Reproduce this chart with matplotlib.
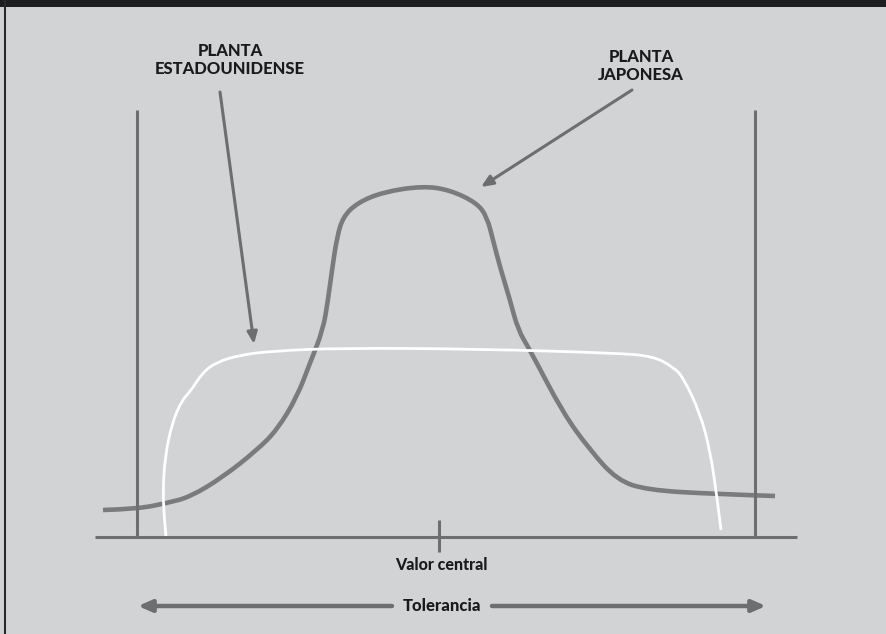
import matplotlib
matplotlib.use('Agg')
import matplotlib.pyplot as plt
from matplotlib.path import Path
from matplotlib.patches import PathPatch

# Diagram coordinates (pixel-like units, y grows downward)
japan_x = [103, 137, 167, 190, 223, 257, 277, 297, 310, 323, 328, 332, 337, 343, 357, 383,
           423, 450, 477, 487, 493, 500, 510, 518, 530, 563, 590, 617, 647, 713, 775]
japan_y = [510, 509, 503, 497, 477, 450, 430, 397, 363, 330, 300, 270, 237, 217, 203, 192,
           186, 190, 203, 217, 240, 267, 300, 330, 350, 413, 450, 480, 490, 494, 496]

usa_x = [166, 164, 163, 165, 172, 182, 190, 203, 217, 240, 273, 340, 480, 613, 653, 673,
         683, 700, 710, 717, 721]
usa_y = [537, 515, 490, 457, 423, 400, 392, 372, 362, 355, 351, 348, 349, 353, 356, 367,
         377, 413, 450, 497, 530]

base_y = 537
base_x = [95, 797]
limits_x = [137, 755]
limits_top = 110
center_x = 439
center_tick = [520, 552]

label_usa = 'PLANTA\nESTADOUNIDENSE'
label_japan = 'PLANTA\nJAPONESA'
label_center = 'Valor central'
label_tol = 'Tolerancia'

bg = '#d2d3d5'
line_col = '#6e6e70'
curve_col = '#7b7b7d'
text_col = '#1a1a1a'

plt.rcParams['font.family'] = ['Lato', 'DejaVu Sans']


def smooth_path(xs, ys):
    # quadratic segments through midpoints, the read points act as control points
    pts = list(zip(xs, ys))
    verts = [pts[0]]
    codes = [Path.MOVETO]
    for i in range(1, len(pts) - 1):
        mid = ((pts[i][0] + pts[i + 1][0]) / 2, (pts[i][1] + pts[i + 1][1]) / 2)
        if i == len(pts) - 2:
            mid = pts[-1]
        verts += [pts[i], mid]
        codes += [Path.CURVE3, Path.CURVE3]
    return Path(verts, codes)


fig = plt.figure(figsize=(8.87, 6.34), dpi=100, facecolor=bg)
ax = fig.add_axes([0, 0, 1, 1])
ax.set_xlim(0, 887)
ax.set_ylim(634, 0)
ax.axis('off')

# frame bits: dark top band and thin left border
ax.fill_between([0, 887], 0, 7, color='#1e1e1e', lw=0)
ax.plot([5, 5], [0, 634], color='#2a2a2a', lw=1.5)

# baseline, tolerance limits, center tick
ax.plot(base_x, [base_y, base_y], color=line_col, lw=2.2, solid_capstyle='butt')
for lx in limits_x:
    ax.plot([lx, lx], [limits_top, base_y], color=line_col, lw=2.2, solid_capstyle='butt')
ax.plot([center_x, center_x], center_tick, color=line_col, lw=2.2, solid_capstyle='butt')

# distributions
ax.add_patch(PathPatch(smooth_path(japan_x, japan_y), fill=False, edgecolor=curve_col,
                       lw=3.3, capstyle='butt', joinstyle='round'))
ax.add_patch(PathPatch(smooth_path(usa_x, usa_y), fill=False, edgecolor='white',
                       lw=2.0, joinstyle='round'))

# labels
ax.text(230, 60, label_usa, ha='center', va='center', fontsize=12, fontweight='black',
        color=text_col, linespacing=1.1)
ax.text(641, 66, label_japan, ha='center', va='center', fontsize=12, fontweight='black',
        color=text_col, linespacing=1.1)

arrow_kw = dict(arrowstyle='-|>,head_length=0.7,head_width=0.3', color=line_col, lw=2.2,
                shrinkA=0, shrinkB=0)
ax.annotate('', xy=(254, 344), xytext=(220, 92), arrowprops=arrow_kw)
ax.annotate('', xy=(481, 187), xytext=(632, 90), arrowprops=arrow_kw)

# center value and tolerance
ax.text(441, 565, label_center, ha='center', va='center', fontsize=11.5,
        fontweight='black', color=text_col)
tol_kw = dict(arrowstyle='-|>,head_length=0.8,head_width=0.35', color=line_col, lw=3.2,
              shrinkA=0, shrinkB=0)
ax.annotate('', xy=(138, 606), xytext=(392, 606), arrowprops=tol_kw)
ax.annotate('', xy=(766, 606), xytext=(492, 606), arrowprops=tol_kw)
ax.text(442, 606, label_tol, ha='center', va='center', fontsize=12, fontweight='black',
        color=text_col)

fig.savefig('out.png', dpi=100, facecolor=bg)
